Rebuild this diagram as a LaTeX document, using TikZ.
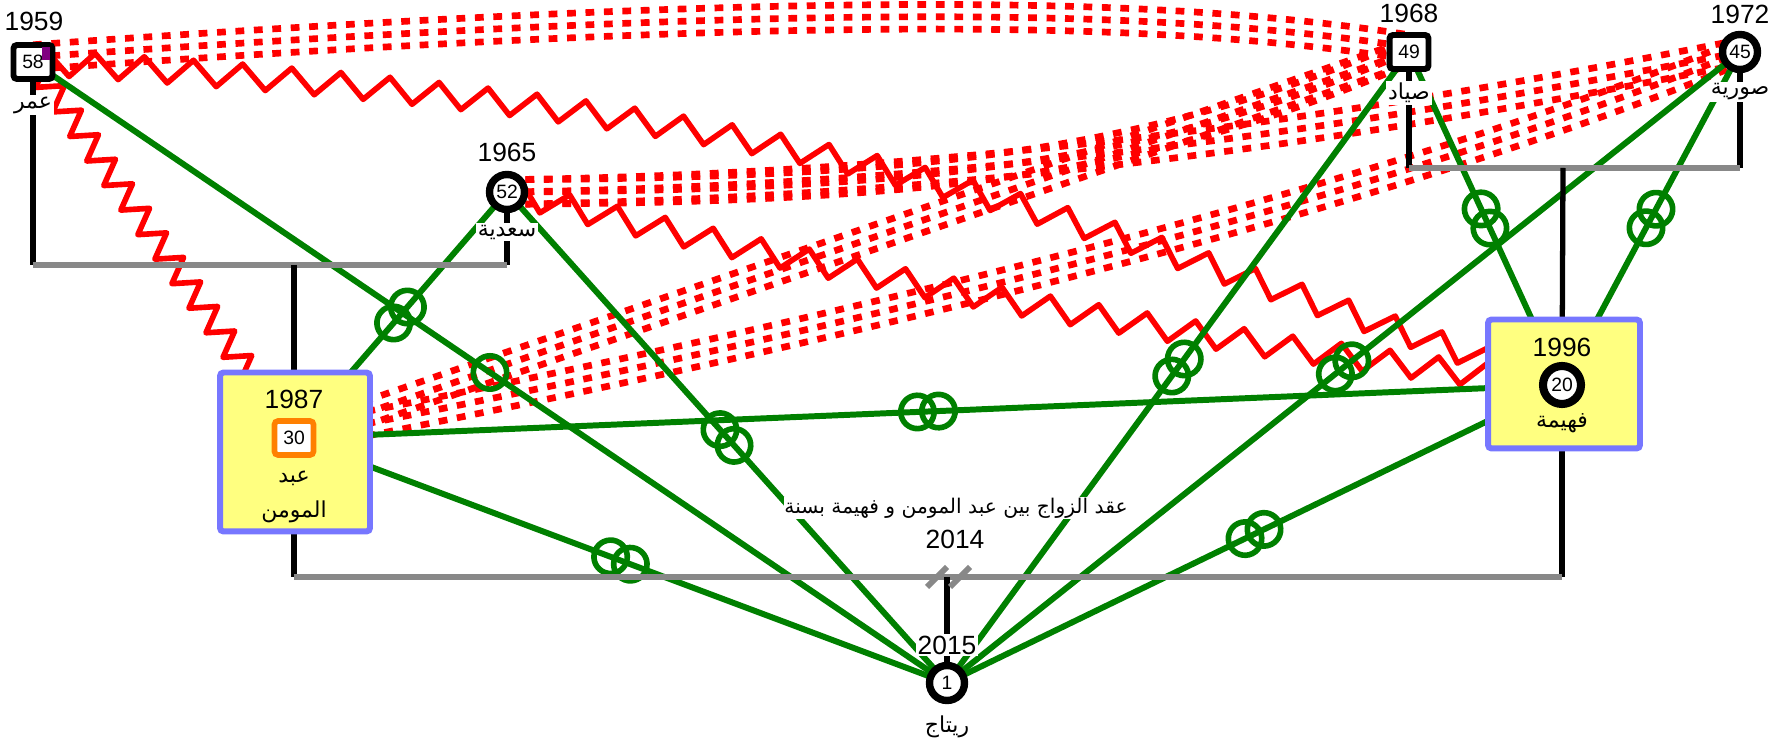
\documentclass[tikz,border=0pt]{standalone}
\usepackage{fontspec}
\setmainfont{Liberation Sans}
\newfontfamily\arabicfont[Script=Arabic]{DejaVu Sans}
\TeXXeTstate=1
\usetikzlibrary{positioning,calc,backgrounds,decorations.pathmorphing,decorations.markings}
\pgfdeclarelayer{rel}
\pgfsetlayers{rel,background,main}
\definecolor{gGreen}{HTML}{008000}
\definecolor{gRed}{HTML}{FF0000}
\definecolor{gGray}{HTML}{888888}
\definecolor{gBoxF}{HTML}{FFFF80}
\definecolor{gBoxS}{HTML}{7777FF}
\definecolor{gOrange}{HTML}{FF8000}
\definecolor{gPurple}{HTML}{800080}
\begin{document}
\begin{tikzpicture}[x=0.02cm, y=-0.02cm,
  male/.style={draw=black, line width=3.4pt, rounded corners=2pt, fill=white, minimum width=0.78cm, minimum height=0.68cm, inner sep=0pt, font=\fontsize{11}{11}\selectfont},
  female/.style={circle, draw=black, line width=4.2pt, fill=white, minimum size=0.7cm, inner sep=0pt, font=\fontsize{11}{11}\selectfont},
  hilite/.style={draw=gBoxS, fill=gBoxF, line width=3.4pt, rounded corners=2pt, inner sep=0pt},
  yr/.style={font=\fontsize{15}{15}\selectfont, fill=white, inner sep=1pt},
  nm/.style={font=\arabicfont\fontsize{12.5}{12.5}\selectfont, fill=white, inner sep=1pt},
  fam/.style={line width=3pt},
  union/.style={gGray, line width=3.4pt},
  close/.style={gGreen, line width=3.4pt},
  ring/.style={postaction={decorate, decoration={markings, mark=at position 0.5 with {\draw[gGreen, line width=3.2pt] (0,0) circle[radius=9.5pt];}}}},
  rings/.style={postaction={decorate, decoration={markings, mark=at position 0.5 with {\draw[gGreen, line width=3.2pt] (-6pt,0) circle[radius=9.5pt] (6pt,0) circle[radius=9.5pt];}}}},
  hostile/.style={gRed, line width=3.2pt, line join=round, decorate, decoration={zigzag, amplitude=7pt, segment length=28pt}},
  distant/.style={gRed, line width=3.8pt, dash pattern=on 5pt off 5.5pt},
]
\useasboundingbox (0,0) rectangle (1782,742);
% ---- highlight boxes ----
\node[hilite, minimum width=3cm, minimum height=3.18cm] (abdbox) at (295,452) {};
\node[hilite, minimum width=3.04cm, minimum height=2.58cm] (fahbox) at (1564,384) {};
% ---- people ----
\node[male] (omar) at (33,62) {58};
\fill[gPurple] (42,47) rectangle (50,60);
\node[female] (saadia) at (507,192) {52};
\node[male] (sayad) at (1409,52) {49};
\node[female] (souria) at (1740,52) {45};
\node[male, draw=gOrange, line width=3.2pt] (abd) at (294,438) {30};
\node[female, minimum size=0.76cm, line width=4.6pt] (fahima) at (1562,385) {20};
\node[female] (ritaj) at (947,683) {1};
\coordinate (u1) at (294,265);
\coordinate (u2) at (1563,168);
\coordinate (u3) at (947,577);
% ---- years and names ----
\node[yr] at (34,21) {1959};
\node[nm] at (33,105) {\beginR عمر\endR};
\node[yr] at (507,152) {1965};
\node[nm] at (507,232) {\beginR سعدية\endR};
\node[yr] at (1409,13) {1968};
\node[nm] at (1409,93) {\beginR صياد\endR};
\node[yr] at (1740,14) {1972};
\node[nm] at (1740,92) {\beginR صورية\endR};
\node[yr, fill=none] at (294,399) {1987};
\node[nm, fill=none] at (294,478) {\beginR عبد\endR};
\node[nm, fill=none] at (294,512) {\beginR المومن\endR};
\node[yr, fill=none] at (1562,347) {1996};
\node[nm, fill=none] at (1562,423) {\beginR فهيمة\endR};
\node[yr] at (947,645) {2015};
\node[nm, fill=none] at (947,727) {\beginR ريتاج\endR};
\node[nm, font=\arabicfont\fontsize{11.5}{11.5}\selectfont, inner sep=0.5pt] (wedtxt) at (956,508) {\beginR عقد الزواج بين عبد المومن و فهيمة بسنة\endR};
\node[yr] (wedyr) at (955,539) {2014};
% ---- family lines ----
\begin{scope}[on background layer]
\draw[fam] (omar.center) -- (omar |- u1);
\draw[fam] (saadia.center) -- (saadia |- u1);
\draw[union] (omar |- u1) -- (saadia |- u1);
\draw[fam] (u1) -- (abd.center);
\draw[fam] (sayad.center) -- (sayad |- u2);
\draw[fam] (souria.center) -- (souria |- u2);
\draw[union] (sayad |- u2) -- (souria |- u2);
\draw[fam] (u2) -- (fahima.center);
\draw[fam] (abd.center) -- (abd |- u3);
\draw[fam] (fahima.center) -- (fahima |- u3);
\draw[union] (abd |- u3) -- (fahima |- u3);
\draw[fam] (u3) -- (ritaj.center);
\draw[union] ($(u3)+(-20,10)$) -- ($(u3)+(0,-10)$);
\draw[union] ($(u3)+(3,10)$) -- ($(u3)+(23,-10)$);
\end{scope}
% ---- emotional links ----
\begin{pgfonlayer}{rel}
\foreach \s in {-4.2pt,2.8pt,9.8pt}
  \draw[distant] ([yshift=\s]omar.center) .. controls ([yshift=\s]800,8) and ([yshift=\s]1150,12) .. ([yshift=\s]sayad.center);
\foreach \s in {-7pt,0pt,7pt}{
  \draw[distant] ([yshift=\s]saadia.center) .. controls ([yshift=\s]950,190) and ([yshift=\s]1150,160) .. ([yshift=\s]sayad.center);
  \draw[distant] ([yshift=\s]saadia.center) .. controls ([yshift=\s]1000,185) and ([yshift=\s]1400,120) .. ([yshift=\s]souria.center);
  \draw[distant] ([yshift=\s]abd.center) -- ([yshift=\s]sayad.center);
  \draw[distant] ([yshift=\s]abd.center) .. controls ([yshift=\s]800,340) and ([yshift=\s]1350,210) .. ([yshift=\s]souria.center);
}
\draw[hostile, decoration={segment length=17pt}] (omar.center) -- (abd.center);
\draw[hostile] (omar.center) .. controls (850,110) and (1000,200) .. (fahima.center);
\draw[hostile] (saadia.center) .. controls (857,280) and (1212,343) .. (fahima.center);
\draw[close, ring] (omar.center) -- (ritaj.center);
\draw[close, rings] (saadia.center) -- (abd.center);
\draw[close, rings] (saadia.center) -- (ritaj.center);
\draw[close, rings] (abd.center) -- (fahima.center);
\draw[close, rings] (abd.center) -- (ritaj.center);
\draw[close, rings] (sayad.center) -- (ritaj.center);
\draw[close, rings] (souria.center) -- (ritaj.center);
\draw[close, rings] (fahima.center) -- (ritaj.center);
\draw[close, rings] (sayad.center) -- (fahima.center);
\draw[close, rings] (souria.center) -- (fahima.center);
\end{pgfonlayer}
\end{tikzpicture}
\end{document}
